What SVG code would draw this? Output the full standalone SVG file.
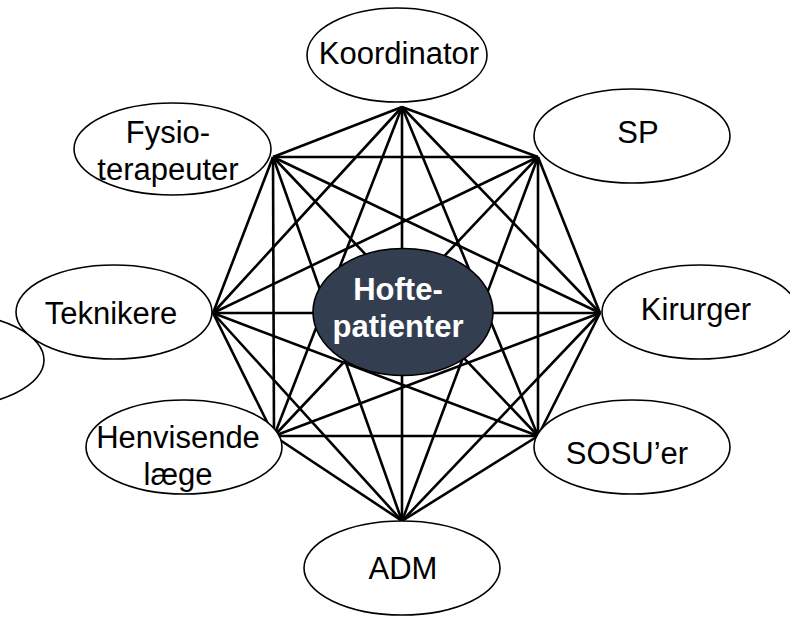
<svg xmlns="http://www.w3.org/2000/svg" width="790" height="617" viewBox="0 0 790 617">
<style>
.n{fill:#fff;stroke:#000;stroke-width:1.6}
.t{font-family:"Liberation Sans",Arial,sans-serif;font-size:31px;fill:#000;text-anchor:middle}
.c{fill:#333f50;stroke:#000;stroke-width:1.6}
.ct{font-family:"Liberation Sans",Arial,sans-serif;font-size:31px;font-weight:bold;fill:#fff;text-anchor:middle}
#edges line{stroke:#000;stroke-width:2.6}
</style>
<rect width="790" height="617" fill="#fff"/>
<g id="extra"><ellipse class="n" cx="-54" cy="360" rx="98" ry="47"/></g>
<g id="edges">
<line x1="402" y1="107" x2="538" y2="157"/>
<line x1="402" y1="107" x2="600" y2="313"/>
<line x1="402" y1="107" x2="538" y2="436"/>
<line x1="402" y1="107" x2="402" y2="521"/>
<line x1="402" y1="107" x2="274" y2="436"/>
<line x1="402" y1="107" x2="213" y2="313"/>
<line x1="402" y1="107" x2="273" y2="157"/>
<line x1="538" y1="157" x2="600" y2="313"/>
<line x1="538" y1="157" x2="538" y2="436"/>
<line x1="538" y1="157" x2="402" y2="521"/>
<line x1="538" y1="157" x2="274" y2="436"/>
<line x1="538" y1="157" x2="213" y2="313"/>
<line x1="538" y1="157" x2="273" y2="157"/>
<line x1="600" y1="313" x2="538" y2="436"/>
<line x1="600" y1="313" x2="402" y2="521"/>
<line x1="600" y1="313" x2="274" y2="436"/>
<line x1="600" y1="313" x2="213" y2="313"/>
<line x1="600" y1="313" x2="273" y2="157"/>
<line x1="538" y1="436" x2="402" y2="521"/>
<line x1="538" y1="436" x2="274" y2="436"/>
<line x1="538" y1="436" x2="213" y2="313"/>
<line x1="538" y1="436" x2="273" y2="157"/>
<line x1="402" y1="521" x2="274" y2="436"/>
<line x1="402" y1="521" x2="213" y2="313"/>
<line x1="402" y1="521" x2="273" y2="157"/>
<line x1="274" y1="436" x2="213" y2="313"/>
<line x1="274" y1="436" x2="273" y2="157"/>
<line x1="213" y1="313" x2="273" y2="157"/>
</g>
<g id="center"><ellipse class="c" cx="403" cy="312" rx="90" ry="63.5"/><text class="ct" x="398" y="300">Hofte-</text><text class="ct" x="398" y="337">patienter</text></g>
<g id="koordinator"><ellipse class="n" cx="397" cy="55" rx="90" ry="47"/><text class="t" x="399" y="64">Koordinator</text></g>
<g id="sp"><ellipse class="n" cx="632" cy="136" rx="98" ry="47"/><text class="t" x="638" y="143">SP</text></g>
<g id="kirurger"><ellipse class="n" cx="700" cy="312" rx="98" ry="47"/><text class="t" x="696" y="320">Kirurger</text></g>
<g id="sosuer"><ellipse class="n" cx="632" cy="447" rx="98" ry="47"/><text class="t" x="627" y="464">SOSU’er</text></g>
<g id="adm"><ellipse class="n" cx="402" cy="568" rx="98" ry="47"/><text class="t" x="403" y="579">ADM</text></g>
<g id="henvisende"><ellipse class="n" cx="184" cy="447" rx="98" ry="47"/><text class="t" x="178" y="448">Henvisende</text><text class="t" x="178" y="485">læge</text></g>
<g id="teknikere"><ellipse class="n" cx="114" cy="312" rx="98" ry="47"/><text class="t" x="111" y="324">Teknikere</text></g>
<g id="fysio"><ellipse class="n" cx="172.5" cy="149" rx="98.5" ry="46"/><text class="t" x="168" y="143">Fysio-</text><text class="t" x="168" y="180">terapeuter</text></g>
</svg>
